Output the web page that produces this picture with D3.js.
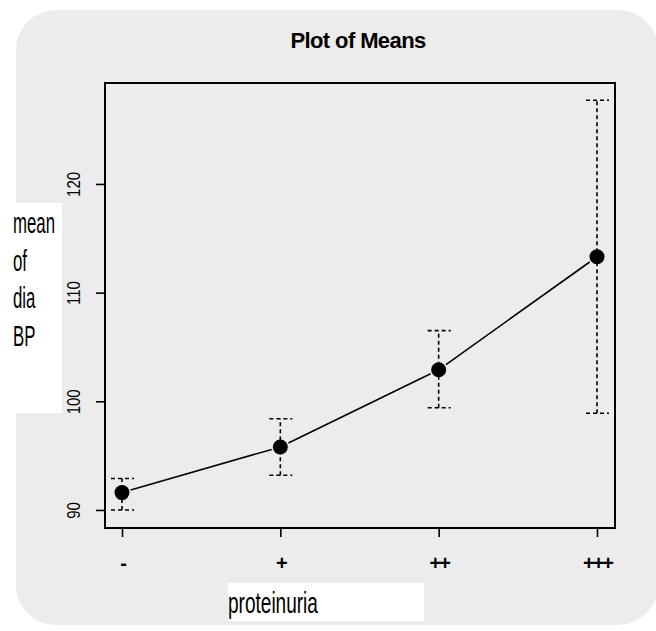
<!DOCTYPE html>
<html>
<head>
<meta charset="utf-8">
<script src="https://cdn.jsdelivr.net/npm/d3@7"></script>
<style>
  body { margin: 0; background: #fff; }
  svg { display: block; }
</style>
</head>
<body>
<div id="chart"></div>
<script>
// data
var categories = ["-", "+", "++", "+++"];
var means = [91.6, 95.8, 102.9, 113.3];
var upper = [92.9, 98.4, 106.5, 127.7];
var lower = [90.0, 93.2, 99.4, 98.9];
var yTicks = [90, 100, 110, 120];
var yLabel = ["mean", "of", "dia", "BP"];

var W = 656, H = 631;
var sans = "'Liberation Sans', Arial, sans-serif";

var svg = d3.select("#chart").append("svg")
    .attr("width", W)
    .attr("height", H)
    .style("font-family", sans);

// grey panel
svg.append("rect")
    .attr("x", 16).attr("y", 10)
    .attr("width", 642).attr("height", 615)
    .attr("rx", 40).attr("ry", 40)
    .attr("fill", "#ececec");

// white boxes behind labels
svg.append("rect").attr("x", 0).attr("y", 203).attr("width", 62).attr("height", 210).attr("fill", "#fff");
svg.append("rect").attr("x", 228).attr("y", 583).attr("width", 196).attr("height", 38).attr("fill", "#fff");

var frame = {left: 105, right: 615, top: 83, bottom: 528};

var x = d3.scalePoint()
    .domain(categories)
    .range([122, 597]);

var y = d3.scaleLinear()
    .domain([88.34, 129.29])
    .range([frame.bottom, frame.top]);

// title
svg.append("text")
    .attr("x", 358).attr("y", 48)
    .attr("text-anchor", "middle")
    .style("font-weight", "bold")
    .style("font-size", "22px")
    .style("letter-spacing", "-0.6px")
    .text("Plot of Means");

// y axis
var yAxis = svg.append("g")
    .attr("transform", "translate(" + frame.left + ",0)")
    .call(d3.axisLeft(y).tickValues(yTicks).tickSize(9).tickFormat(d3.format("d")));
yAxis.select(".domain").remove();
yAxis.selectAll(".tick line").attr("stroke", "#000").attr("stroke-width", 1.6);
yAxis.selectAll(".tick text")
    .attr("x", null).attr("dy", null)
    .attr("transform", "translate(-31,0) rotate(-90) scale(0.88,1.1)")
    .attr("text-anchor", "middle")
    .attr("dominant-baseline", "central")
    .style("font-family", sans)
    .style("font-size", "17px")
    .attr("fill", "#000");

// x axis
var xAxis = svg.append("g")
    .attr("transform", "translate(0," + frame.bottom + ")")
    .call(d3.axisBottom(x).tickSize(9));
xAxis.select(".domain").remove();
xAxis.selectAll(".tick line").attr("stroke", "#000").attr("stroke-width", 1.6);
xAxis.selectAll(".tick text")
    .attr("y", 35).attr("dy", "0.35em")
    .style("font-family", sans)
    .style("font-weight", "bold")
    .style("font-size", "20px")
    .style("letter-spacing", "-2px")
    .attr("fill", "#000");

// frame
svg.append("rect")
    .attr("x", frame.left).attr("y", frame.top)
    .attr("width", frame.right - frame.left)
    .attr("height", frame.bottom - frame.top)
    .attr("fill", "none")
    .attr("stroke", "#000")
    .attr("stroke-width", 2);

// axis titles
var yl = svg.append("g").style("font-size", "20px");
yl.selectAll("text")
    .data(yLabel)
    .enter().append("text")
    .attr("transform", function (d, i) {
        return "translate(13," + (233 + i * 37.5) + ") scale(0.84,1.45)";
    })
    .text(function (d) { return d; });

svg.append("text")
    .attr("transform", "translate(228,613) scale(0.866,1.31)")
    .style("font-size", "22px")
    .text("proteinuria");

// error bars
var bars = svg.append("g")
    .attr("stroke", "#000")
    .attr("stroke-width", 1.6)
    .attr("stroke-dasharray", "4,3");

categories.forEach(function (c, i) {
    var cx = x(c);
    bars.append("line")
        .attr("x1", cx).attr("x2", cx)
        .attr("y1", y(lower[i])).attr("y2", y(upper[i]));
    bars.append("line")
        .attr("x1", cx - 11).attr("x2", cx + 12)
        .attr("y1", y(upper[i])).attr("y2", y(upper[i]));
    bars.append("line")
        .attr("x1", cx - 11).attr("x2", cx + 12)
        .attr("y1", y(lower[i])).attr("y2", y(lower[i]));
});

// connecting line, with a gap round each point
var pts = categories.map(function (c, i) { return [x(c), y(means[i])]; });
var gap = 9;
for (var i = 0; i < pts.length - 1; i++) {
    var a = pts[i], b = pts[i + 1];
    var dx = b[0] - a[0], dy = b[1] - a[1];
    var len = Math.sqrt(dx * dx + dy * dy);
    svg.append("line")
        .attr("x1", a[0] + dx / len * gap).attr("y1", a[1] + dy / len * gap)
        .attr("x2", b[0] - dx / len * gap).attr("y2", b[1] - dy / len * gap)
        .attr("stroke", "#000")
        .attr("stroke-width", 1.6);
}

svg.append("g").selectAll("circle")
    .data(means)
    .enter().append("circle")
    .attr("cx", function (d, i) { return x(categories[i]); })
    .attr("cy", function (d) { return y(d); })
    .attr("r", 7.5)
    .attr("fill", "#000");
</script>
</body>
</html>
